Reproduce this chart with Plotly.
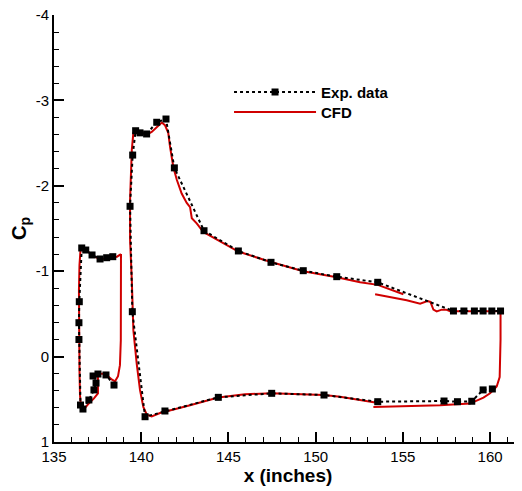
import plotly.graph_objects as go

# ---------------- data ----------------
# Experimental data: slat
slat_exp_x = [138.44, 137.98, 137.52, 137.24, 137.41, 137.29, 137.00, 136.66, 136.52,
              136.43, 136.43, 136.45, 136.59, 136.82, 137.18, 137.64, 138.02, 138.37]
slat_exp_cp = [0.333, 0.215, 0.204, 0.227, 0.31, 0.39, 0.508, 0.614, 0.567,
               -0.20, -0.397, -0.643, -1.272, -1.248, -1.19, -1.143, -1.158, -1.17]

# Experimental data: main element + flap
main_exp_x = [160.13, 159.60, 158.95, 158.13, 157.36, 153.56, 150.48, 147.48, 144.42, 141.36,
              140.22, 139.49, 139.36, 139.51, 139.68, 139.93, 140.31, 140.89, 141.42, 141.90,
              143.60, 145.57, 147.44, 149.29, 151.21, 153.56, 157.90, 158.50, 159.10, 159.60,
              160.10, 160.60]
main_exp_cp = [0.379, 0.39, 0.523, 0.528, 0.52, 0.528, 0.45, 0.43, 0.477, 0.637,
               0.704, -0.526, -1.76, -2.36, -2.645, -2.62, -2.607, -2.744, -2.782, -2.21,
               -1.474, -1.237, -1.104, -1.006, -0.936, -0.87, -0.534, -0.534, -0.534, -0.534,
               -0.534, -0.534]

# CFD: slat
slat_cfd_x = [138.84, 138.84, 138.83, 138.78, 138.67, 138.50, 138.33, 138.10, 137.87, 137.58,
              137.52, 137.52, 137.29, 136.95, 136.66, 136.55, 136.49, 136.46, 136.43, 136.43,
              136.46, 136.52, 136.59, 136.72, 136.95, 137.24, 137.64, 137.98, 138.33, 138.61,
              138.84]
slat_cfd_cp = [-1.20, -0.66, -0.19, 0.10, 0.23, 0.29, 0.27, 0.23, 0.20, 0.20,
               0.23, 0.43, 0.49, 0.56, 0.63, 0.60, 0.45, 0.16, -0.31, -0.78,
               -1.07, -1.25, -1.28, -1.27, -1.23, -1.18, -1.14, -1.15, -1.16, -1.17,
               -1.20]

# CFD: main element
main_cfd_x = [153.50, 151.40, 150.48, 148.72, 147.48, 145.95, 144.42, 142.80, 141.08, 140.60,
              140.32, 140.12, 139.93, 139.74, 139.55, 139.46, 139.36, 139.36, 139.46, 139.55,
              139.74, 140.03, 140.32, 140.60, 140.89, 141.18, 141.36, 141.55, 141.65, 141.75,
              141.84, 142.04, 142.32, 142.61, 142.80, 142.90, 143.18, 143.56, 144.52, 145.57,
              147.39, 149.29, 151.21, 152.55, 153.56, 155.03]
main_cfd_cp = [0.54, 0.47, 0.45, 0.44, 0.43, 0.44, 0.48, 0.57, 0.66, 0.70,
               0.68, 0.59, 0.39, 0.08, -0.31, -0.90, -1.37, -1.83, -2.42, -2.62,
               -2.63, -2.62, -2.60, -2.63, -2.69, -2.74, -2.71, -2.62, -2.46, -2.34,
               -2.22, -2.07, -1.91, -1.80, -1.75, -1.62, -1.56, -1.46, -1.35, -1.23,
               -1.11, -1.00, -0.93, -0.87, -0.84, -0.73]

# CFD: flap
flap_cfd_x = [153.41, 154.27, 155.22, 155.99, 156.41, 156.58, 156.75, 156.94, 157.23, 157.48,
              157.71, 158.50, 159.50, 160.60, 160.60, 160.57, 160.55, 160.38, 160.00, 159.62,
              158.85, 157.13, 155.24, 153.31]
flap_cfd_cp = [-0.73, -0.70, -0.66, -0.62, -0.65, -0.64, -0.55, -0.53, -0.55, -0.55,
               -0.53, -0.53, -0.53, -0.53, -0.20, 0.10, 0.24, 0.35, 0.43, 0.48,
               0.55, 0.57, 0.58, 0.59]

x_tick_vals = [135, 140, 145, 150, 155, 160]
x_tick_text = ["135", "140", "145", "150", "155", "160"]
y_tick_vals = [-4, -3, -2, -1, 0, 1]
y_tick_text = ["-4", "-3", "-2", "-1", "0", "1"]

# ---------------- figure ----------------
exp_x = slat_exp_x + [None] + main_exp_x
exp_cp = slat_exp_cp + [None] + main_exp_cp
cfd_x = slat_cfd_x + [None] + main_cfd_x + [None] + flap_cfd_x
cfd_cp = slat_cfd_cp + [None] + main_cfd_cp + [None] + flap_cfd_cp

FONT = "Liberation Sans, Arial, Helvetica, sans-serif"
RED = "#d00000"

fig = go.Figure()
fig.add_trace(go.Scatter(
    x=cfd_x, y=cfd_cp, mode="lines", name="CFD",
    line=dict(color=RED, width=2), showlegend=False))
fig.add_trace(go.Scatter(
    x=exp_x, y=exp_cp, mode="lines+markers", name="Exp. data",
    line=dict(color="black", width=2, dash="dot"),
    marker=dict(symbol="square", size=7, color="black"), legend="legend"))
fig.add_trace(go.Scatter(
    x=[None], y=[None], mode="lines", name="CFD",
    line=dict(color=RED, width=2), legend="legend2"))

axis_common = dict(
    showline=True, linewidth=2, linecolor="black", mirror=False,
    showgrid=False, zeroline=False, automargin=False,
    ticks="inside", ticklen=10, tickwidth=1.5, tickcolor="black",
    ticklabeloverflow="allow",
    tickfont=dict(family=FONT, size=15, color="black"),
)

leg_common = dict(xanchor="left", yanchor="top", bgcolor="rgba(0,0,0,0)", itemwidth=82,
                  font=dict(family=FONT, size=15, color="black", weight="bold"))

# the page adds an 8px body margin, so the figure is sized to fill the rest of the window
fig.update_layout(
    width=514, height=483,
    margin=dict(l=46, r=0, t=7, b=49),
    plot_bgcolor="white", paper_bgcolor="white",
    font=dict(family=FONT, color="black"),
    legend=dict(x=0.374, y=0.858, **leg_common),
    legend2=dict(x=0.374, y=0.811, **leg_common),
    xaxis=dict(range=[135, 161.83], tickvals=x_tick_vals, ticktext=x_tick_text,
               minor=dict(dtick=1, tick0=135, ticks="inside", ticklen=5, tickwidth=1, tickcolor="black"),
               title=dict(text="x (inches)", font=dict(family=FONT, size=19, weight="bold"), standoff=0),
               **axis_common),
    yaxis=dict(range=[1, -4], tickvals=y_tick_vals, ticktext=y_tick_text,
               minor=dict(dtick=0.2, tick0=0, ticks="inside", ticklen=5, tickwidth=1, tickcolor="black"),
               title=dict(text="C<sub>p</sub>", font=dict(family=FONT, size=20, weight="bold"), standoff=13),
               **axis_common),
)

fig.write_html("out.html")
